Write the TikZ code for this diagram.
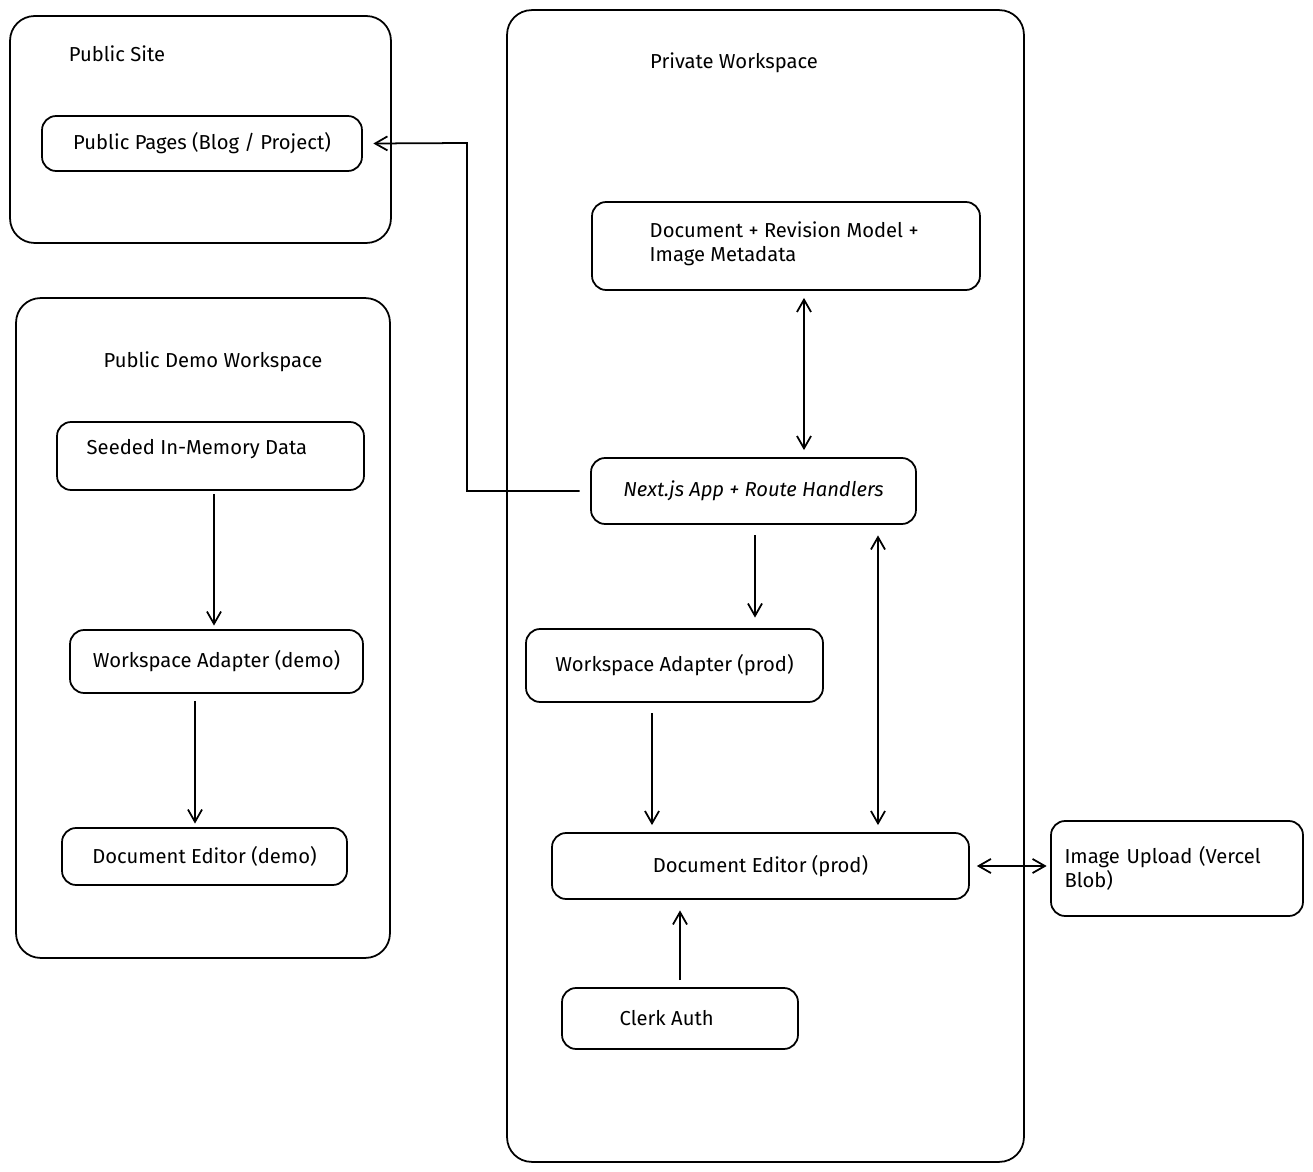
\documentclass[tikz,border=0pt]{standalone}
\usepackage{fontspec}
\setmainfont{Fira Sans}
\usetikzlibrary{arrows.meta}
\begin{document}
\begin{tikzpicture}[x=0.02cm,y=-0.02cm,line width=1pt,
    box/.style={draw,rounded corners=8pt,inner sep=0pt,font=\fontsize{11.5}{13.5}\selectfont},
    zone/.style={draw,rounded corners=14pt,inner sep=0pt},
    title/.style={font=\fontsize{11.5}{13.5}\selectfont},
    arr/.style={-{Straight Barb[length=7pt,width=8pt]}},
    darr/.style={{Straight Barb[length=7pt,width=8pt]}-{Straight Barb[length=7pt,width=8pt]}}]
    \useasboundingbox (0,0) rectangle (1313,1172);
    % containers
    \node[zone,minimum width=7.62cm,minimum height=4.54cm] (site) at (200.5,129.5) {};
    \node[title] (sitelbl) at (117,54) {Public Site};
    \node[zone,minimum width=7.48cm,minimum height=13.2cm] (demo) at (203,628) {};
    \node[title] (demolbl) at (213,362) {Public Demo Workspace};
    \node[zone,minimum width=10.34cm,minimum height=23.04cm] (priv) at (765.5,586) {};
    \node[title] (privlbl) at (734,63) {Private Workspace};
    % public side
    \node[box,minimum width=6.4cm,minimum height=1.1cm] (pages) at (202,143.5) {Public Pages (Blog / Project)};
    \node[box,minimum width=6.14cm,minimum height=1.36cm] (seed) at (210.5,456) {};
    \node[title,anchor=west] (seedlbl) at (80,449) {Seeded In-Memory Data};
    \node[box,minimum width=5.86cm,minimum height=1.26cm] (wademo) at (216.5,661.5) {Workspace Adapter (demo)};
    \node[box,minimum width=5.7cm,minimum height=1.14cm] (eddemo) at (204.5,856.5) {Document Editor (demo)};
    % private side
    \node[box,minimum width=7.76cm,minimum height=1.76cm] (model) at (786,246) {};
    \node[title,anchor=west,align=left] (modellbl) at (643,244) {Document + Revision Model +\\Image Metadata};
    \node[box,minimum width=6.5cm,minimum height=1.32cm] (app) at (753.5,491) {\itshape Next.js App + Route Handlers};
    \node[box,minimum width=5.94cm,minimum height=1.46cm] (waprod) at (674.5,665.5) {Workspace Adapter (prod)};
    \node[box,minimum width=8.34cm,minimum height=1.32cm] (edprod) at (760.5,866) {Document Editor (prod)};
    \node[box,minimum width=4.72cm,minimum height=1.22cm] (clerk) at (680,1018.5) {};
    \node[title,anchor=west] (clerklbl) at (613,1018) {Clerk Auth};
    \node[box,minimum width=5.04cm,minimum height=1.9cm,align=left,text width=4.5cm] (upload) at (1177,868.5) {Image Upload (Vercel\\Blob)};
    % connectors
    \draw[arr] ([xshift=-6pt]app.west) -| (467,143) -- ([xshift=6pt]pages.east);
    \draw[darr,shorten <=4pt,shorten >=4pt] (model.south -| 804,0) -- (app.north -| 804,0);
    \draw[arr,shorten <=6pt,shorten >=6pt] (app.south -| 755,0) -- (waprod.north -| 755,0);
    \draw[darr,shorten <=6pt,shorten >=4pt] (app.south -| 878,0) -- (edprod.north -| 878,0);
    \draw[arr,shorten <=6pt,shorten >=4pt] (waprod.south -| 652,0) -- (edprod.north -| 652,0);
    \draw[arr,shorten <=4pt,shorten >=6pt] (clerk.north) -- (edprod.south -| clerk.north);
    \draw[darr,shorten <=4pt,shorten >=2pt] (edprod.east) -- (upload.west |- edprod.east);
    \draw[arr,shorten <=2pt,shorten >=2pt] (seed.south -| 214,0) -- (wademo.north -| 214,0);
    \draw[arr,shorten <=4pt,shorten >=2pt] (wademo.south -| 195,0) -- (eddemo.north -| 195,0);
\end{tikzpicture}
\end{document}
